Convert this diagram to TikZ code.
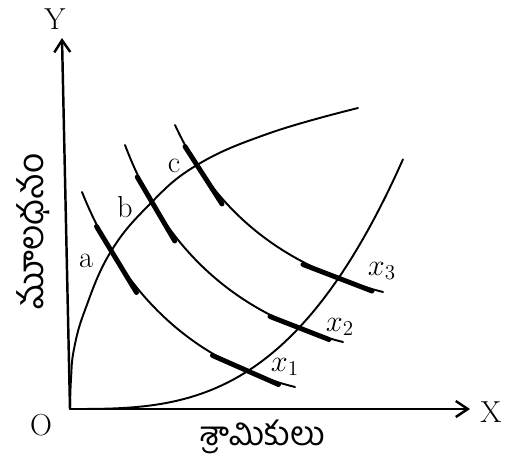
\documentclass[tikz,border=0pt]{standalone}
\usepackage{fontspec}
\usepackage{tikz}
\usetikzlibrary{arrows.meta,calc,positioning}
\newfontfamily\telugufont[Script=Telugu]{Hind Guntur}

\begin{document}
\begin{tikzpicture}[x=1cm,y=1cm,every node/.style={font=\LARGE},
    curve/.style={line width=1.1pt,line cap=round},
    tangent/.style={line width=2.8pt,line cap=round},
    axis/.style={line width=1.4pt,-{Straight Barb[length=2.4mm,width=3.2mm]}}]
    \useasboundingbox (-1.4,-1.28) rectangle (8.84,8.18);
    % axes
    \coordinate (O) at (0,0);
    \coordinate (ytop) at (-0.16,7.42);
    \coordinate (xend) at (8.0,0);
    \draw[axis] (O) -- (ytop);
    \draw[axis] (O) -- (xend);
    \node (ylab) at (-0.3,7.8) {Y};
    \node (xlab) at (8.42,-0.06) {X};
    \node (olab) at (-0.58,-0.32) {O};
    \node[rotate=90] (capital) at (-0.74,3.55) {\telugufont\fontsize{20}{24}\selectfont మూలధనం};
    \node (labour) at (3.86,-0.56) {\telugufont\fontsize{19}{22}\selectfont శ్రామికులు};
    % equilibrium points
    \coordinate (a) at (0.83,3.15);
    \coordinate (b) at (1.645,4.13);
    \coordinate (c) at (2.54,4.88);
    \coordinate (p1) at (3.55,0.76);
    \coordinate (p2) at (4.58,1.62);
    \coordinate (p3) at (5.36,2.62);
    % expansion paths
    \draw[curve] plot[smooth,tension=0.7] coordinates {(O) (0.02,0.6) (0.08,1.2) (0.3,1.98) (0.8,3.12) (1.56,4.06) (c) (4.0,5.52) (5.76,6.02)};
    \draw[curve] plot[domain=0:6.66,samples=60] (\x,{0.0169*\x*\x*\x});
    % isoquants
    \draw[curve] (0.24,4.34) .. controls (1.08,2.24) and (2.5,0.94) .. (4.5,0.44);
    \draw[curve] (1.1,5.28) .. controls (1.89,3.18) and (3.35,1.87) .. (5.46,1.34);
    \draw[curve] (2.1,5.68) .. controls (2.9,3.95) and (4.25,2.85) .. (6.26,2.34);
    % tangents
    \draw[tangent] ($(a)+(-0.3,0.5)$) -- ($(a)+(0.5,-0.82)$);
    \draw[tangent] ($(b)+(-0.3,0.51)$) -- ($(b)+(0.45,-0.77)$);
    \draw[tangent] ($(c)+(-0.24,0.37)$) -- ($(c)+(0.5,-0.78)$);
    \draw[tangent] ($(p1)+(-0.7,0.31)$) -- ($(p1)+(0.62,-0.27)$);
    \draw[tangent] ($(p2)+(-0.58,0.23)$) -- ($(p2)+(0.6,-0.23)$);
    \draw[tangent] ($(p3)+(-0.7,0.27)$) -- ($(p3)+(0.68,-0.26)$);
    % labels
    \node (la) at (0.32,2.96) {a};
    \node (lb) at (1.1,4.04) {b};
    \node (lc) at (2.08,4.86) {c};
    \node (l1) at (4.3,0.84) {$x_1$};
    \node (l2) at (5.4,1.64) {$x_2$};
    \node (l3) at (6.24,2.76) {$x_3$};
\end{tikzpicture}
\end{document}
